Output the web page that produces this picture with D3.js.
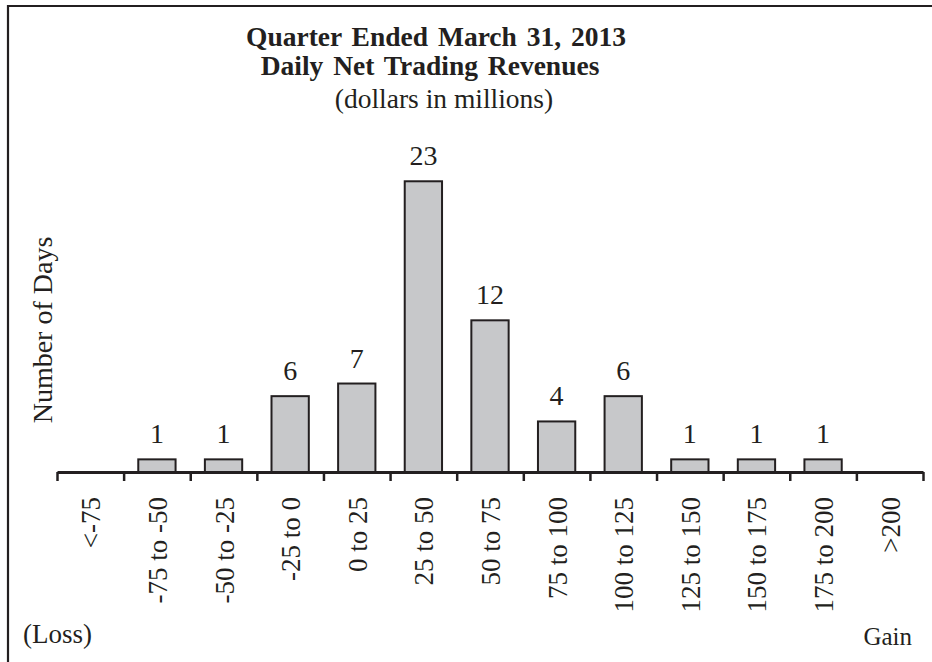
<!DOCTYPE html>
<html>
<head>
<meta charset="utf-8">
<script src="https://cdn.jsdelivr.net/npm/d3@7"></script>
<style>
  html, body { margin: 0; padding: 0; background: #fff; }
  svg { display: block; font-family: "Liberation Serif", "Times New Roman", serif; }
</style>
</head>
<body>
<svg id="chart" width="932" height="662"></svg>
<script>
const categories = ["<-75", "-75 to -50", "-50 to -25", "-25 to 0", "0 to 25", "25 to 50", "50 to 75", "75 to 100", "100 to 125", "125 to 150", "150 to 175", "175 to 200", ">200"];
const days = [0, 1, 1, 6, 7, 23, 12, 4, 6, 1, 1, 1, 0];
const titleLines = ["Quarter Ended March 31, 2013", "Daily Net Trading Revenues", "(dollars in millions)"];
const yAxisLabel = "Number of Days";
const lossLabel = "(Loss)";
const gainLabel = "Gain";

const data = categories.map((c, i) => ({ cat: c, v: days[i] }));
const svg = d3.select("#chart");
const ink = "#231f20";

// frame (top and left edges visible)
svg.append("line").attr("x1", 8).attr("y1", 6).attr("x2", 932).attr("y2", 6)
  .attr("stroke", ink).attr("stroke-width", 2.2);
svg.append("line").attr("x1", 8).attr("y1", 5).attr("x2", 8).attr("y2", 662)
  .attr("stroke", ink).attr("stroke-width", 2.2);

const x = d3.scaleBand().domain(categories).range([57, 923]).paddingInner(0.44).paddingOuter(0.22);
const y = d3.scaleLinear().domain([0, 25]).range([472, 156]);

// bars
svg.append("g").selectAll("rect").data(data.filter(d => d.v > 0)).join("rect")
  .attr("x", d => x(d.cat))
  .attr("y", d => y(d.v))
  .attr("width", x.bandwidth())
  .attr("height", d => y(0) - y(d.v))
  .attr("fill", "#c7c8ca")
  .attr("stroke", ink)
  .attr("stroke-width", 2);

// value labels
svg.append("g").selectAll("text").data(data.filter(d => d.v > 0)).join("text")
  .attr("x", d => x(d.cat) + x.bandwidth() / 2)
  .attr("y", d => y(d.v) - 16)
  .attr("text-anchor", "middle")
  .attr("font-size", 28)
  .attr("fill", ink)
  .text(d => d.v);

// x axis: baseline with ticks at band boundaries
const step = x.step();
const edges = d3.range(categories.length + 1).map(i => 57 + i * (866 / categories.length));
const axis = d3.axisBottom(d3.scaleLinear().domain([0, categories.length]).range([57, 923]))
  .tickValues(d3.range(categories.length + 1))
  .tickSize(9).tickSizeOuter(0).tickFormat("");
const ga = svg.append("g").attr("transform", `translate(0,${y(0)})`).call(axis);
ga.select(".domain").attr("stroke", ink).attr("stroke-width", 3);
ga.selectAll(".tick line").attr("stroke", ink).attr("stroke-width", 2.5);

// category labels (rotated)
svg.append("g").selectAll("text").data(categories).join("text")
  .attr("transform", d => `translate(${x(d) + x.bandwidth() / 2 + 10},497) rotate(-90)`)
  .attr("text-anchor", "end")
  .attr("font-size", 27)
  .attr("fill", ink)
  .text(d => d);

// titles
svg.append("text").attr("x", 436).attr("y", 46).attr("text-anchor", "middle")
  .attr("font-size", 27.5).attr("font-weight", "bold").attr("fill", ink)
  .attr("word-spacing", 3).text(titleLines[0]);
svg.append("text").attr("x", 430).attr("y", 75).attr("text-anchor", "middle")
  .attr("font-size", 27.5).attr("font-weight", "bold").attr("fill", ink)
  .attr("word-spacing", 3).text(titleLines[1]);
svg.append("text").attr("x", 444).attr("y", 108).attr("text-anchor", "middle")
  .attr("font-size", 27.5).attr("fill", ink).text(titleLines[2]);

// y axis label
svg.append("text").attr("transform", "translate(52,330) rotate(-90)")
  .attr("text-anchor", "middle").attr("font-size", 28).attr("fill", ink).text(yAxisLabel);

// loss / gain
svg.append("text").attr("x", 23).attr("y", 643).attr("font-size", 27).attr("fill", ink).text(lossLabel);
svg.append("text").attr("x", 912).attr("y", 645).attr("text-anchor", "end").attr("font-size", 25).attr("fill", ink).text(gainLabel);
</script>
</body>
</html>
